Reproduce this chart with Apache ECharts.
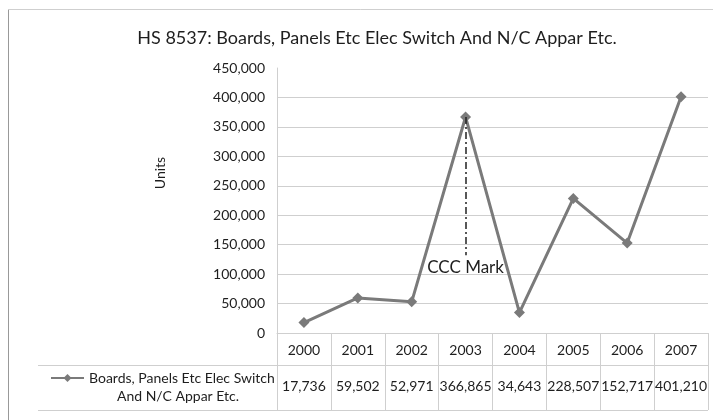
<!DOCTYPE html>
<html>
<head>
<meta charset="utf-8">
<script src="https://cdn.jsdelivr.net/npm/echarts@6/dist/echarts.min.js"></script>
<style>
  html, body { margin: 0; padding: 0; background: #fff; }
  #chart { width: 713px; height: 420px; }
</style>
</head>
<body>
<div id="chart"></div>
<script>
// Import units of HS 8537 by year
const years = ['2000', '2001', '2002', '2003', '2004', '2005', '2006', '2007'];
const units = [17736, 59502, 52971, 366865, 34643, 228507, 152717, 401210];
const seriesName = 'Boards, Panels Etc Elec Switch And N/C Appar Etc.';
const seriesNameLines = ['Boards, Panels Etc Elec Switch', 'And N/C Appar Etc.'];
const titleText = 'HS 8537: Boards, Panels Etc Elec Switch And N/C Appar Etc.';
const yAxisTitle = 'Units';
const markYear = '2003';
const markLabel = 'CCC Mark';
const markEndValue = 132000;

const FONT = 'Lato';
const INK = '#1e1e1e';
const GRID = '#cfcfcf';
const fmt = v => v.toLocaleString('en-US');

const chart = echarts.init(document.getElementById('chart'), null, { renderer: 'canvas' });

chart.setOption({
  animation: false,
  backgroundColor: '#fff',
  textStyle: { fontFamily: FONT, color: INK },
  title: {
    text: titleText,
    left: 372, top: 24, textAlign: 'center',
    textStyle: { fontFamily: FONT, fontSize: 18, fontWeight: 'normal', color: INK }
  },
  grid: { left: 277, right: 5, top: 68, bottom: 87, containLabel: false },
  legend: {
    left: 45, top: 366,
    itemWidth: 33, itemHeight: 10, itemGap: 5,
    data: [seriesName],
    formatter: () => seriesNameLines[0],
    textStyle: { fontFamily: FONT, fontSize: 14, color: INK }
  },
  xAxis: [
    {
      type: 'category',
      data: years,
      position: 'bottom',
      boundaryGap: true,
      axisLine: { show: true, lineStyle: { color: GRID, width: 1 } },
      axisTick: { show: true, interval: 0, length: 77, lineStyle: { color: GRID } },
      axisLabel: { margin: 10, fontFamily: FONT, fontSize: 14, color: INK, interval: 0 },
      splitLine: { show: false }
    },
    {
      // value row of the data table, one cell per year
      type: 'category',
      data: years,
      position: 'bottom',
      boundaryGap: true,
      axisLine: { show: false },
      axisTick: { show: false },
      axisLabel: {
        margin: 46, interval: 0, fontFamily: FONT, fontSize: 14, color: INK,
        formatter: (v, i) => fmt(units[i])
      },
      splitLine: { show: false }
    }
  ],
  yAxis: {
    type: 'value',
    min: 0, max: 450000, interval: 50000,
    axisLine: { show: true, lineStyle: { color: GRID } },
    axisTick: { show: false },
    axisLabel: { margin: 12, fontFamily: FONT, fontSize: 14, color: INK, formatter: v => fmt(v) },
    splitLine: {
      show: true,
      lineStyle: {
        color: [GRID, GRID, GRID, GRID, GRID, GRID, GRID, GRID, GRID, 'rgba(0,0,0,0)'],
        width: 1
      }
    }
  },
  series: [{
    name: seriesName,
    type: 'line',
    data: units,
    symbol: 'diamond',
    symbolSize: 11,
    itemStyle: { color: '#7a7a7a' },
    lineStyle: { color: '#7a7a7a', width: 3 },
    z: 3,
    markLine: {
      silent: true,
      symbol: ['none', 'none'],
      lineStyle: { color: '#222', width: 1.5, type: [7, 3, 2, 3] },
      label: {
        show: true, position: 'end', distance: 4,
        formatter: markLabel,
        fontFamily: FONT, fontSize: 17, color: INK
      },
      data: [[
        { coord: [markYear, units[years.indexOf(markYear)]] },
        { coord: [markYear, markEndValue] }
      ]]
    }
  }],
  graphic: [
    // chart frame
    { type: 'line', shape: { x1: 8.5, y1: 9.5, x2: 8.5, y2: 420 }, style: { stroke: '#999', lineWidth: 1 } },
    { type: 'line', shape: { x1: 8.5, y1: 9.5, x2: 713, y2: 9.5 }, style: { stroke: '#cfcfcf', lineWidth: 1 } },
    // data table rules
    { type: 'line', shape: { x1: 38, y1: 365.5, x2: 708, y2: 365.5 }, style: { stroke: GRID, lineWidth: 1 } },
    { type: 'line', shape: { x1: 38, y1: 410.5, x2: 708, y2: 410.5 }, style: { stroke: GRID, lineWidth: 1 } },
    // second line of the legend label
    {
      type: 'text', x: 178, y: 396,
      style: { text: seriesNameLines[1], font: '14px ' + FONT, fill: INK, align: 'center', verticalAlign: 'middle' }
    },
    // y axis title
    {
      type: 'text', x: 160, y: 173, rotation: Math.PI / 2,
      style: { text: yAxisTitle, font: '14px ' + FONT, fill: INK, align: 'center', verticalAlign: 'middle' }
    }
  ]
});
</script>
</body>
</html>
